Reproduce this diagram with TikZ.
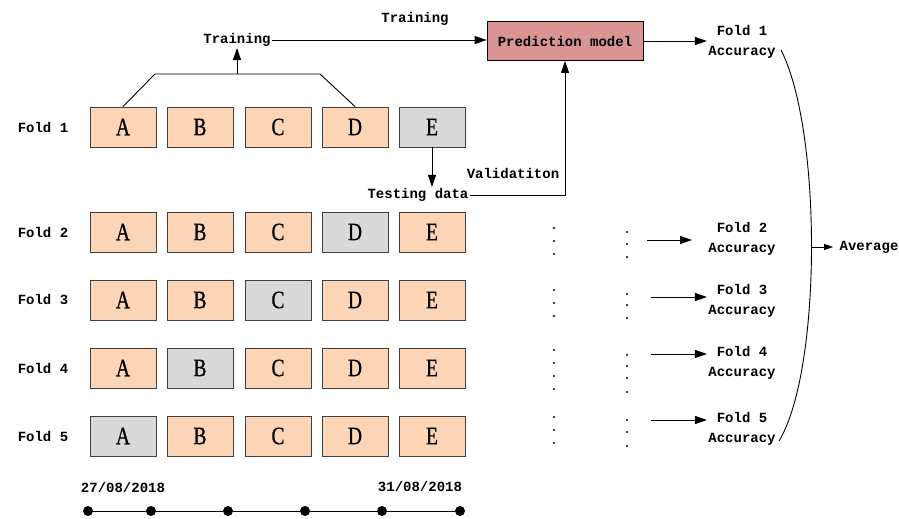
\documentclass[tikz,border=0pt]{standalone}
\usepackage{fontspec}
\usepackage{tikz}
\usetikzlibrary{arrows.meta, calc}
\newfontfamily\lblfont{Liberation Mono}
\newfontfamily\boxfont{Liberation Serif}[FakeStretch=0.78, FakeBold=0.6]
\definecolor{peach}{HTML}{FBD5B5}
\definecolor{testgray}{HTML}{D9D9D9}
\definecolor{modelred}{HTML}{D99594}
\definecolor{edge}{HTML}{404040}

\begin{document}
\begin{tikzpicture}[x=1pt, y=-1pt, line width=0.9pt,
	>={Triangle[length=12pt,width=8pt]}]
	\tikzstyle{lbl}=[font=\lblfont\bfseries\fontsize{14}{20}\selectfont, inner sep=1pt, align=center]
	\tikzstyle{fold}=[
	draw=edge,
	rectangle,
	minimum width=66pt,
	minimum height=40pt,
	inner sep=0pt,
	font=\boxfont\fontsize{25}{25}\selectfont
	]
	\tikzstyle{trainbox}=[fold, fill=peach]
	\tikzstyle{testbox}=[fold, fill=testgray]
	\tikzstyle{tick}=[circle, fill=black, inner sep=0pt, minimum size=10pt]
	\useasboundingbox (0,0) rectangle (899,519);
	%
	% folds: number / row centre / position of the test part
	\foreach \f/\y/\g in {1/127/5, 2/232/4, 3/300/3, 4/368/2, 5/436/1}{
		\node[lbl] (fold\f) at (43,\y) {Fold \f};
		\foreach \l/\x [count=\i] in {A/123, B/200, C/278, D/355, E/432}{
			\ifnum\i=\g \def\st{testbox}\else\def\st{trainbox}\fi
			\node[\st] (b\f\l) at (\x,\y) {\l};
		}
	}
	%
	\node[lbl] (trn) at (237,40) {Training};
	\node[lbl] (trnb) at (415,19) {Training};
	\node[draw=black, fill=modelred, lbl, minimum width=156pt, minimum height=39pt] (pm) at (565,41) {Prediction model};
	\node[lbl] (test) at (418,195) {Testing data};
	\node[lbl] (val) at (513,173) {Validatiton};
	\node[lbl] (acc1) at (742,42) {Fold 1\\Accuracy};
	\node[lbl] (acc2) at (742,239) {Fold 2\\Accuracy};
	\node[lbl] (acc3) at (742,301) {Fold 3\\Accuracy};
	\node[lbl] (acc4) at (742,363) {Fold 4\\Accuracy};
	\node[lbl] (acc5) at (742,429) {Fold 5\\Accuracy};
	\node[lbl] (avg) at (869,247) {Average};
	%
	% training bracket
	\coordinate (brk) at (237,74);
	\draw (b1A.north) -- (155,74) -- (320,74) -- (b1D.north);
	\draw[->] (brk) -- (trn.south);
	\draw[->] (trn.east) -- (trn.east -| pm.west);
	\draw[->] (pm.east) -- (pm.east -| acc1.west);
	\draw[->] (b1E.south) -- (test.north -| b1E.south);
	\draw[->] (test.east) -| (pm.south);
	%
	% other folds
	\coordinate (a2s) at (647,240);
	\coordinate (a3s) at (651,297);
	\coordinate (a4s) at (651,354);
	\coordinate (a5s) at (651,420);
	\draw[->] (a2s) -- ++(45,0);
	\draw[->] (a3s) -- (a3s -| acc3.west);
	\draw[->] (a4s) -- (a4s -| acc4.west);
	\draw[->] (a5s) -- (a5s -| acc5.west);
	\foreach \y in {228,241,254, 290,303,316, 350,363,376,389, 417,430,443}
	\fill (554,\y) circle (1.2pt);
	\foreach \y in {232,244,257, 294,305,318, 355,366,378,392, 420,432,446}
	\fill (627,\y) circle (1.2pt);
	%
	% average
	\draw (781,50) .. controls (822,130) and (822,370) .. (779,441);
	\coordinate (crv) at (812,247);
	\draw[->, >={Triangle[length=9pt,width=6pt]}, shorten >=5pt] (crv) -- (avg.west);
	%
	% time line
	\foreach \x [count=\i] in {88,151,228,305,382,460}
	\node[tick] (t\i) at (\x,511) {};
	\draw (t1) -- (t2) -- (t3) -- (t4) -- (t5) -- (t6);
	\node[lbl] (d1) at (123,487) {27/08/2018};
	\node[lbl] (d2) at (420,487) {31/08/2018};
\end{tikzpicture}
\end{document}
